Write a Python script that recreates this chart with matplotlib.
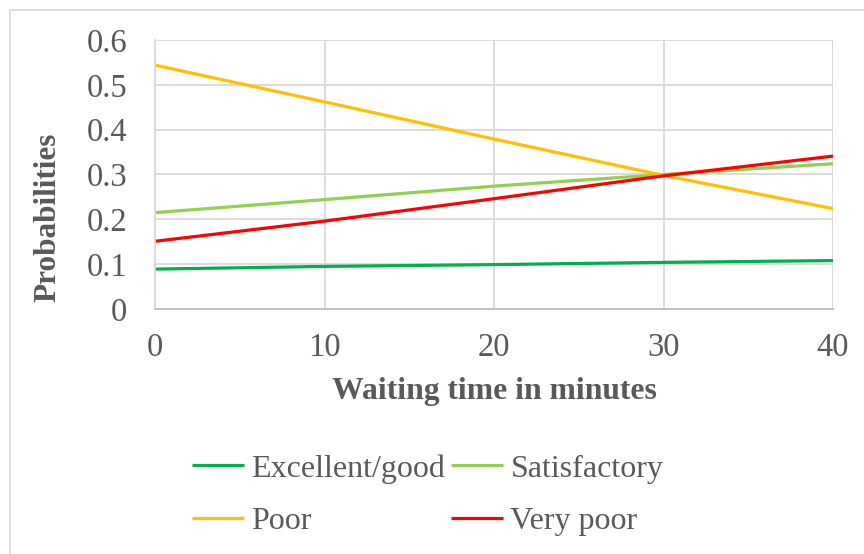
import numpy as np
import matplotlib
matplotlib.use("Agg")
import matplotlib.pyplot as plt
from matplotlib.patches import Rectangle

plt.rcParams["font.family"] = ["Liberation Serif", "DejaVu Serif"]

minutes = [0, 10, 20, 30, 40]
excellent_good = [0.089, 0.095, 0.099, 0.104, 0.108]
satisfactory = [0.215, 0.244, 0.274, 0.300, 0.324]
poor = [0.544, 0.462, 0.379, 0.298, 0.224]
very_poor = [0.151, 0.196, 0.246, 0.297, 0.341]

series = [
    ("Excellent/good", excellent_good, "#00B050"),
    ("Satisfactory", satisfactory, "#92D050"),
    ("Poor", poor, "#FFC000"),
    ("Very poor", very_poor, "#FF0000"),
]
TXT = "#595959"
GRID = "#d9d9d9"
W, H = 864, 554

fig = plt.figure(figsize=(8.64, 5.54), dpi=100)
ax = fig.add_axes([155 / W, 1 - 309 / H, (833 - 155) / W, (309 - 40) / H])

handles = []
for name, vals, col in series:
    h, = ax.plot(minutes, vals, color=col, lw=2.3, label=name, solid_capstyle="butt")
    handles.append(h)

ax.set_xlim(0, 40)
ax.set_ylim(0, 0.6)
ax.set_xticks([0, 10, 20, 30, 40])
ax.set_yticks(np.arange(0, 0.61, 0.1))
ax.set_yticklabels(["0", "0.1", "0.2", "0.3", "0.4", "0.5", "0.6"])
ax.grid(True, color=GRID, lw=1.3)
ax.set_axisbelow(True)
for s in ["top", "right"]:
    ax.spines[s].set_visible(False)
ax.spines["left"].set_color(GRID)
ax.spines["left"].set_linewidth(1.3)
ax.spines["bottom"].set_color("#bfbfbf")
ax.spines["bottom"].set_linewidth(1.3)
ax.tick_params(axis="both", length=0, labelsize=23.5, colors=TXT)
ax.tick_params(axis="y", pad=20)
ax.tick_params(axis="x", pad=17)

fig.text(494 / W, 1 - 391 / H, "Waiting time in minutes", fontsize=22.8, fontweight="bold",
         color=TXT, ha="center", va="center")
fig.text(48 / W, 1 - 217 / H, "Probabilities", fontsize=22.5, fontweight="bold",
         color=TXT, ha="center", va="center", rotation=90)

# order: Excellent/good, Satisfactory / Poor, Very poor across rows
leg = fig.legend([handles[0], handles[2], handles[1], handles[3]],
                 ["Excellent/good", "Poor", "Satisfactory", "Very poor"],
                 ncol=2, loc="upper left", bbox_to_anchor=(192 / W, 1 - 454 / H),
                 frameon=False, fontsize=23, handlelength=1.63, handletextpad=0.22,
                 columnspacing=0.2, labelspacing=0.72, borderpad=0, borderaxespad=0)
for t in leg.get_texts():
    t.set_color(TXT)

fig.patches.append(Rectangle((10 / W, -0.01), 1, 1 - 10 / H + 0.01, transform=fig.transFigure,
                             fill=False, edgecolor="#d9d9d9", lw=1.2))

fig.savefig("out.png", dpi=100)
